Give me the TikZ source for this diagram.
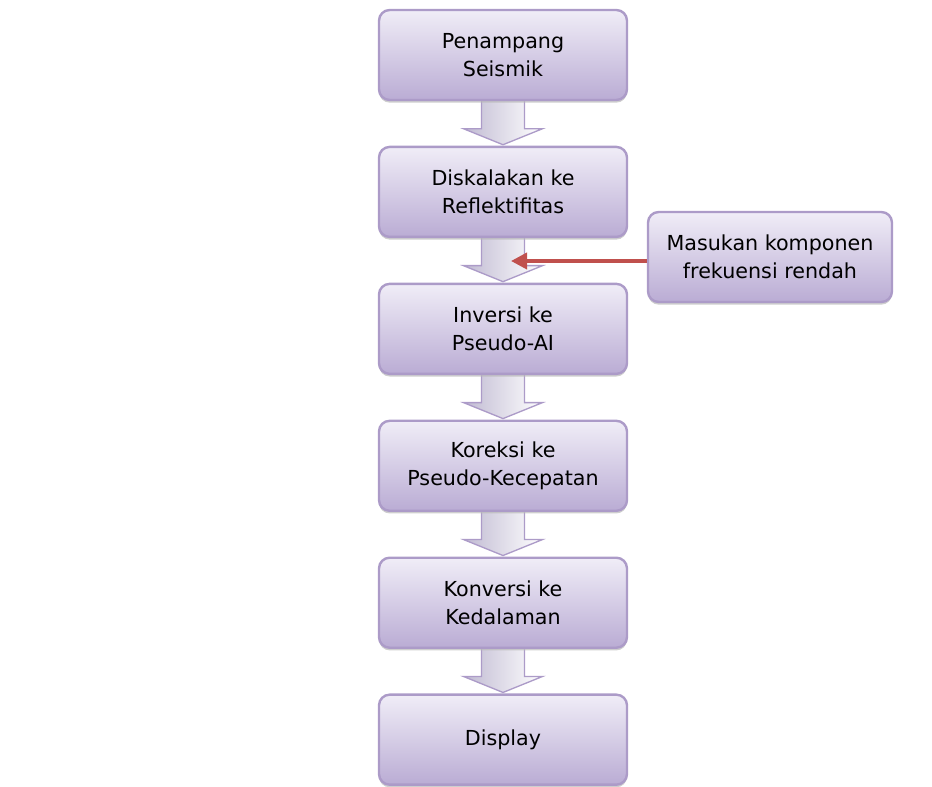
\documentclass[tikz,border=0pt]{standalone}
\usepackage{fontspec}
\setmainfont{DejaVu Sans}
\usetikzlibrary{positioning, arrows.meta, calc, backgrounds, shadows}

\definecolor{lavgaris}{RGB}{172,155,200}
\definecolor{lavatas}{RGB}{240,237,247}
\definecolor{lavbawah}{RGB}{186,172,212}
\definecolor{panahkiri}{RGB}{192,186,210}
\definecolor{merah}{RGB}{192,80,77}

\tikzset{
  proses/.style={draw=lavgaris, line width=1.8pt, rounded corners=8pt,
    top color=lavatas, bottom color=lavbawah,
    minimum width=186pt, minimum height=67.5pt, align=center,
    font=\fontsize{15.5}{21}\selectfont,
    drop shadow={shadow xshift=0pt, shadow yshift=-2pt, fill=gray!55, opacity=0.7}},
  blokpanah/.style={draw=lavgaris, line width=1pt, left color=panahkiri, right color=white},
  panahmerah/.style={draw=merah, line width=2.8pt, -{Triangle[length=12pt, width=12pt]}}
}

\begin{document}
\begin{tikzpicture}[x=0.75pt, y=-0.75pt, node distance=33.4pt]
  \useasboundingbox (0,0) rectangle (932,787);

  \node[proses] (seis) at (503,55) {Penampang\\Seismik};
  \node[proses, below=of seis] (refl) {Diskalakan ke\\Reflektifitas};
  \node[proses, below=of refl] (inv) {Inversi ke\\Pseudo-AI};
  \node[proses, below=of inv] (kor) {Koreksi ke\\Pseudo-Kecepatan};
  \node[proses, below=of kor] (konv) {Konversi ke\\Kedalaman};
  \node[proses, below=of konv] (disp) {Display};

  \node[proses, minimum width=183pt] (masukan) at (770,257) {Masukan komponen\\frekuensi rendah};

  % panah blok antar kotak
  \begin{scope}[on background layer]
    \foreach \a/\b in {seis/refl, refl/inv, inv/kor, kor/konv, konv/disp}
      \path[blokpanah] ($(\a.south)+(-21.5,-2)$) -- ($(\b.north)+(-21.5,-17)$)
        -- ($(\b.north)+(-39.5,-17)$) -- ($(\b.north)+(0,-1)$)
        -- ($(\b.north)+(39.5,-17)$) -- ($(\b.north)+(21.5,-17)$)
        -- ($(\a.south)+(21.5,-2)$) -- cycle;
  \end{scope}

  \coordinate (ujung) at (511,261);
  \draw[panahmerah] (masukan.west |- ujung) -- (ujung);
\end{tikzpicture}
\end{document}
